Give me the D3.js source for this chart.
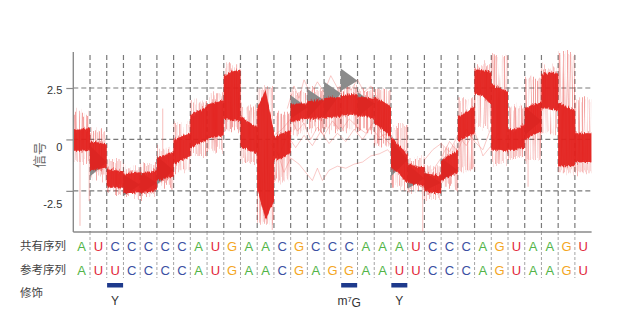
<!DOCTYPE html>
<html>
<head>
<meta charset="utf-8">
<script src="https://cdn.jsdelivr.net/npm/d3@7"></script>
<style>
  body { margin: 0; background: #fff; }
  svg { display: block; }
</style>
</head>
<body>
<svg id="chart" width="630" height="330"></svg>
<script>
// ---- sequence rows ----
const consensus = ["A","U","C","C","C","C","C","A","U","G","A","A","C","G","C","C","C","A","A","A","U","C","C","C","A","G","U","A","A","G","U"];
const reference = ["A","U","U","C","C","C","C","A","U","G","A","A","C","G","A","G","G","A","A","U","U","C","C","C","A","G","U","A","A","G","U"];
const modPositions = [2, 16, 19];
const modLabels = ["Y", "m7G", "Y"];
const rowLabels = ["共有序列", "参考序列", "修饰"];
const yTicks = [-2.5, 0, 2.5];

// ---- signal bundle per base: [left, middle, right] of the dense core ----
const coreHi = [
  [0.45,0.5,0.55],[-0.1,-0.15,-0.25],[-1.45,-1.5,-1.55],[-1.7,-1.65,-1.6],[-1.65,-1.6,-1.5],
  [-0.85,-0.75,-0.65],[0.0,0.15,0.3],[1.2,1.4,1.6],[1.7,1.8,1.9],[3.1,3.3,3.4],
  [1.1,0.85,0.6],[1.5,2.4,0.4],[0.1,0.3,0.45],[1.7,1.75,1.75],[1.85,1.9,1.9],
  [2.0,2.05,2.05],[2.15,2.2,2.2],[2.05,2.05,1.95],[2.05,1.85,1.6],[0.1,-0.3,-0.75],
  [-1.2,-1.3,-1.35],[-1.65,-1.7,-1.75],[-1.0,-0.75,-0.5],[1.1,1.3,1.6],[3.4,3.35,3.3],
  [2.7,2.5,2.3],[0.5,0.5,0.7],[1.5,1.7,1.8],[3.2,3.25,3.2],[1.8,1.6,1.4],[0.3,0.3,0.3]
];
const coreLo = [
  [-0.55,-0.55,-0.5],[-1.5,-1.45,-1.35],[-2.3,-2.3,-2.35],[-2.6,-2.6,-2.55],[-2.6,-2.55,-2.45],
  [-2.0,-1.9,-1.8],[-1.2,-1.0,-0.8],[-0.4,-0.2,-0.05],[0.05,0.1,0.2],[1.0,0.95,0.9],
  [-0.35,-0.5,-0.7],[-2.4,-3.9,-3.0],[-1.0,-0.9,-0.7],[0.9,0.95,1.0],[1.0,1.0,1.05],
  [1.05,1.1,1.1],[1.15,1.2,1.2],[1.1,1.1,1.0],[0.8,0.5,0.1],[-1.35,-1.7,-2.1],
  [-2.1,-2.2,-2.3],[-2.5,-2.6,-2.6],[-2.0,-1.8,-1.6],[-0.1,0.1,0.3],[2.2,2.1,1.7],
  [-0.5,-0.5,-0.6],[-0.5,-0.5,-0.4],[0.0,0.2,0.4],[1.5,1.5,1.4],[-1.3,-1.3,-1.3],[-1.1,-1.1,-1.1]
];
// faint outer reach of the reads per base
const haloHi = [1.3,0.4,-1.0,-1.4,-1.2,-0.4,0.8,1.8,2.2,3.65,1.6,2.5,1.2,2.3,2.4,2.5,2.6,2.4,2.4,0.6,-0.9,-1.3,-0.3,2.0,3.6,4.1,1.6,3.0,3.5,4.2,1.9];
const haloLo = [-1.1,-1.8,-2.55,-2.75,-2.7,-2.2,-1.5,-0.8,-0.5,0.5,-1.1,-4.0,-2.0,0.3,0.5,0.5,0.5,0.4,-0.3,-2.3,-2.6,-2.9,-2.3,-1.5,0.6,-1.2,-0.9,-1.0,0.3,-1.6,-1.6];

// expected-level wedges: [base, left top, left bottom, right apex]
const modelWedges = [
  [1,-0.3,-1.8,-1.1],[3,-1.7,-2.75,-2.2],[4,-1.6,-2.65,-2.1],[5,-0.8,-2.2,-1.5],
  [13,2.15,1.0,1.55],[14,2.45,1.0,1.9],[15,2.8,1.1,2.25],[16,3.45,2.35,2.85],[17,2.3,1.1,1.75],
  [19,0.0,-1.8,-1.0],[20,-1.2,-2.4,-1.9],[21,-1.6,-2.5,-2.1],[22,-0.9,-2.0,-1.5],[27,1.6,0.2,0.9]
];

// a few stray reads drawn individually: [position, signal]
const strayA = [[12.2,-0.6],[12.6,-1.6],[13.0,-0.9],[13.5,-1.2],[14.0,-1.7],[14.3,-2.0],[14.6,-1.4],[14.9,-2.0],[15.3,-1.5],[15.8,-1.3],[16.3,-1.4],[16.8,-1.2],[17.3,-1.1],[17.8,-0.8],[18.3,-0.7],[18.8,-0.5],[19.2,-0.9]];
const strayB = [[12.0,0.2],[12.5,0.5],[13.0,1.0],[13.4,0.4],[13.8,0.8],[14.2,0.0],[14.6,0.6],[15.0,0.2],[15.5,0.9],[16.0,0.4],[16.5,1.0],[17.0,0.6],[17.5,0.3],[18.0,0.9],[18.5,0.2],[19.0,-0.3]];
const strayC = [[11.8,-0.2],[12.3,-0.8],[12.8,0.2],[13.3,-0.4],[13.8,0.2],[14.3,-0.3],[14.8,0.4],[15.3,-0.2],[15.8,0.3],[16.3,-0.1],[16.8,0.5],[17.3,0.0],[17.8,0.6],[18.3,0.1],[18.8,0.3],[19.3,-0.8]];
const strayD = [[12.8,1.5],[13.2,2.6],[13.5,2.0],[13.8,2.9],[14.2,2.2],[14.6,2.8],[15.0,2.3],[15.4,3.1],[15.8,2.5],[16.2,2.7],[16.6,2.4],[17.0,2.9],[17.4,2.3],[17.8,2.6],[18.2,2.0]];
const strayE = [[21.0,-1.0],[21.5,-0.5],[22.0,-0.2],[22.5,-0.6],[23.0,0.2],[23.5,-0.3],[24.0,0.4],[24.5,-0.8],[25.0,-0.3],[25.5,0.4]];
const strayF = [[21.5,-1.5],[22.0,-0.9],[22.5,-0.1],[23.0,-0.6],[23.5,0.5],[24.0,-0.1],[24.5,-0.5],[25.0,0.6]];
const strayReads = [strayA, strayB, strayC, strayD, strayE, strayF];

// single-read excursions: [position, from, to]
const spikes = [[0.4,-0.5,-4.2],[0.95,-0.6,-3.0],[5.35,-1.0,1.5],[11.9,-2.0,-4.4],[20.9,-2.0,-4.5],[25.2,2.5,4.1],[27.2,0.0,-2.3],[29.1,1.5,4.2],[9.4,3.3,3.7]];

// ---- layout ----
const svg = d3.select("#chart");
const plotLeft = 73.3, plotRight = 591.6, plotTop = 52, plotBottom = 232;
const x = d3.scaleLinear().domain([0, consensus.length]).range([plotLeft, plotRight]);
const y = d3.scaleLinear().domain([-4.5, 4.25]).range([plotBottom, plotTop]);
const yLabelPos = d3.scaleLinear().domain([-2.5, 2.5]).range([203.7, 89.7]);
const RED = "#e3201c";

const defs = svg.append("defs");
defs.append("clipPath").attr("id", "plotClip")
  .append("rect").attr("x", plotLeft).attr("y", plotTop - 2)
  .attr("width", plotRight - plotLeft).attr("height", plotBottom - plotTop + 10);

// streaky texture for noisy current traces
function streakFilter(id, freq, scale, maskGain, maskBias) {
  const f = defs.append("filter").attr("id", id)
    .attr("x", "-5%").attr("y", "-30%").attr("width", "110%").attr("height", "160%")
    .attr("color-interpolation-filters", "sRGB");
  f.append("feTurbulence").attr("type", "fractalNoise").attr("baseFrequency", freq)
    .attr("numOctaves", 2).attr("seed", 5).attr("result", "noise");
  f.append("feColorMatrix").attr("in", "noise").attr("type", "matrix")
    .attr("values", "0 0 0 0 0.5  0 1 0 0 0  0 0 0 0 0  0 0 0 0 1").attr("result", "shift");
  f.append("feDisplacementMap").attr("in", "SourceGraphic").attr("in2", "shift")
    .attr("scale", scale).attr("xChannelSelector", "R").attr("yChannelSelector", "G").attr("result", "moved");
  if (maskGain) {
    f.append("feColorMatrix").attr("in", "noise").attr("type", "matrix")
      .attr("values", `0 0 0 0 0  0 0 0 0 0  0 0 0 0 0  0 0 ${maskGain} 0 ${maskBias}`).attr("result", "mask");
    f.append("feComposite").attr("in", "moved").attr("in2", "mask").attr("operator", "in");
  }
}
streakFilter("hair", "0.9 0.012", 18, 3, -1.1);
streakFilter("roughWide", "0.8 0.02", 11, 0, 0);
streakFilter("rough", "0.7 0.03", 5, 0, 0);

// ---- grid ----
const gridColor = "#7a7a7a";
const vLines = d3.range(1, consensus.length);
svg.append("g").selectAll("line").data(vLines).join("line")
  .attr("x1", d => x(d)).attr("x2", d => x(d))
  .attr("y1", plotTop + 3).attr("y2", plotBottom)
  .attr("stroke", gridColor).attr("stroke-width", 1.2).attr("stroke-dasharray", "5,3");
svg.append("g").selectAll("line").data(vLines).join("line")
  .attr("x1", d => x(d)).attr("x2", d => x(d))
  .attr("y1", plotBottom).attr("y2", 278)
  .attr("stroke", "#9a9a9a").attr("stroke-width", 0.9).attr("stroke-dasharray", "3,2");
svg.append("g").selectAll("line").data(yTicks).join("line")
  .attr("x1", plotLeft).attr("x2", plotRight)
  .attr("y1", d => y(d)).attr("y2", d => y(d))
  .attr("stroke", gridColor).attr("stroke-width", 1.2).attr("stroke-dasharray", "5,3");

// ---- signal ----
const plot = svg.append("g").attr("clip-path", "url(#plotClip)");

const haloPts = [];
haloHi.forEach((hi, k) => {
  haloPts.push({ p: k, hi: hi, lo: haloLo[k] });
  haloPts.push({ p: k + 1, hi: hi, lo: haloLo[k] });
});
const corePts = [];
coreHi.forEach((hi, k) => {
  [0, 0.5, 1].forEach((f, i) => corePts.push({ p: k + f, hi: hi[i], lo: coreLo[k][i] }));
});
const band = d3.area().x(d => x(d.p)).y0(d => y(d.lo)).y1(d => y(d.hi));

plot.append("path").datum(haloPts).attr("d", band)
  .attr("fill", RED).attr("opacity", 0.42).attr("filter", "url(#hair)");

const line = d3.line().x(d => x(d[0])).y(d => y(d[1]));
plot.append("g").selectAll("path").data(strayReads).join("path")
  .attr("d", line).attr("fill", "none")
  .attr("stroke", "#ee6a66").attr("stroke-width", 0.8).attr("opacity", 0.45);
plot.append("g").selectAll("line").data(spikes).join("line")
  .attr("x1", d => x(d[0])).attr("x2", d => x(d[0]))
  .attr("y1", d => y(d[1])).attr("y2", d => y(d[2]))
  .attr("stroke", "#ef8580").attr("stroke-width", 0.9).attr("opacity", 0.6);

plot.append("g").selectAll("path").data(modelWedges).join("path")
  .attr("d", d => `M${x(d[0])},${y(d[1])}L${x(d[0] + 1)},${y(d[3])}L${x(d[0])},${y(d[2])}Z`)
  .attr("fill", "#8b8b8b");

plot.append("path").datum(corePts).attr("d", band)
  .attr("fill", RED).attr("opacity", 0.4).attr("filter", "url(#roughWide)");
plot.append("path").datum(corePts).attr("d", band)
  .attr("fill", RED).attr("opacity", 0.9).attr("filter", "url(#rough)");

// ---- axes ----
const axisColor = "#8a8a8a";
svg.append("line").attr("x1", plotLeft).attr("x2", plotLeft)
  .attr("y1", plotTop).attr("y2", plotBottom)
  .attr("stroke", axisColor).attr("stroke-width", 1.4);
svg.append("line").attr("x1", plotLeft).attr("x2", plotRight)
  .attr("y1", plotBottom).attr("y2", plotBottom)
  .attr("stroke", axisColor).attr("stroke-width", 1.4);

const yAxis = svg.append("g").attr("transform", `translate(${plotLeft},0)`)
  .call(d3.axisLeft(y).tickValues(yTicks).tickSize(7).tickPadding(4).tickFormat(d => String(d)));
yAxis.select(".domain").remove();
yAxis.selectAll(".tick line").attr("stroke", axisColor).attr("stroke-width", 1.2);
yAxis.selectAll(".tick text")
  .attr("y", d => yLabelPos(d) - y(d)).attr("dy", "0.35em")
  .attr("fill", "#333").attr("font-size", 11)
  .attr("font-family", "'Liberation Sans', Arial, sans-serif");

svg.append("text").attr("transform", "translate(39,155) rotate(-90)")
  .attr("text-anchor", "middle").attr("dy", "0.35em")
  .attr("font-family", "'Noto Sans CJK SC', sans-serif").attr("font-size", 13)
  .attr("fill", "#666").text("信号");

// ---- sequences ----
const baseColor = { A: "#52b447", U: "#e2283a", C: "#3b4fa2", G: "#f4a623" };
const rowY = [246.5, 270.5, 293.5];
rowLabels.forEach((t, i) => {
  svg.append("text").attr("x", 20).attr("y", rowY[i] - 1).attr("dy", "0.35em")
    .attr("font-family", "'Noto Sans CJK SC', sans-serif").attr("font-size", 11.5)
    .attr("fill", "#444").text(t);
});
[consensus, reference].forEach((seq, r) => {
  svg.append("g").selectAll("text").data(seq).join("text")
    .attr("x", (d, i) => x(i + 0.5)).attr("y", rowY[r]).attr("dy", "0.35em")
    .attr("text-anchor", "middle")
    .attr("font-family", "'Liberation Sans', Arial, sans-serif").attr("font-size", 13)
    .attr("fill", d => baseColor[d]).text(d => d);
});

// ---- modifications ----
svg.append("g").selectAll("rect").data(modPositions).join("rect")
  .attr("x", d => x(d + 0.5) - 8).attr("y", 283).attr("width", 16).attr("height", 4.5)
  .attr("fill", "#1e3a8c");
const modText = svg.append("g").selectAll("text").data(modPositions).join("text")
  .attr("x", d => x(d + 0.5)).attr("y", 301).attr("dy", "0.35em")
  .attr("text-anchor", "middle")
  .attr("font-family", "'Liberation Sans', Arial, sans-serif").attr("font-size", 12)
  .attr("fill", "#333");
modText.each(function (d, i) {
  const t = d3.select(this);
  const label = modLabels[i];
  if (label === "m7G") {
    t.append("tspan").text("m");
    t.append("tspan").attr("font-size", 7.5).attr("dy", "-0.45em").text("7");
    t.append("tspan").attr("dy", "0.45em").text("G");
  } else {
    t.text(label);
  }
});
</script>
</body>
</html>
